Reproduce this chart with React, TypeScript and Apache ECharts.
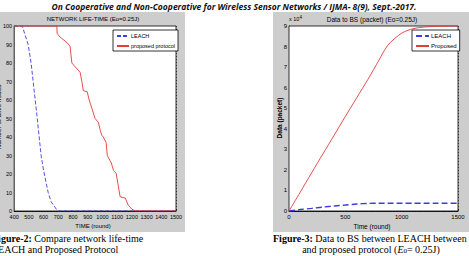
import React, { useEffect, useRef } from "react";
import * as echarts from "echarts";

// Left chart: network life-time (alive nodes vs round)
const leachRounds = [400, 455, 495, 515, 529, 543, 557, 570, 583, 600, 605, 631, 651, 678, 695, 800, 1000, 1200, 1500];
const leachAlive = [100, 100, 90, 80, 70, 60, 50, 40, 30, 22, 20, 10, 5, 2, 0, 0, 0, 0, 0];
const propRounds = [400, 690, 692, 712, 760, 780, 792, 814, 848, 860, 870, 896, 910, 930, 950, 972, 984, 995, 1006, 1025, 1033, 1060, 1075, 1093, 1107, 1120, 1155, 1175, 1200, 1222, 1300, 1500];
const propAlive = [100, 100, 96, 94, 91, 89, 80, 78, 75, 70, 65, 64.5, 60, 55, 50, 48, 44, 41, 40, 37, 30, 26, 22, 20.5, 14, 7.7, 7, 3.2, 1, 0, 0, 0];

// Right chart: data to BS (x10^4 packets)
const timeRounds = [0, 100, 200, 300, 400, 500, 600, 700, 800, 850, 900, 1000, 1100, 1200, 1300, 1400, 1500];
const proposedData = [0, 0.92, 1.85, 2.77, 3.68, 4.6, 5.5, 6.4, 7.35, 7.85, 8.2, 8.65, 8.87, 8.95, 8.98, 8.99, 9.0];
const leachData = [0, 0.07, 0.13, 0.19, 0.24, 0.29, 0.34, 0.37, 0.38, 0.38, 0.38, 0.38, 0.38, 0.38, 0.38, 0.38, 0.38];

const headerText = "On Cooperative and Non-Cooperative for Wireless Sensor Networks / IJMA- 8(9), Sept.-2017.";
const leftTitle = "NETWORK LIFE-TIME (Eo=0.25J)";
const rightTitle = "Data to BS (packet) (Eo=0.25J)";

const BLUE = "#3d3ddc";
const RED = "#e8393b";
const GRAY = "#cdcdcd";
const NARROW = "'Liberation Sans', Arial, sans-serif";
const SERIF = "'Liberation Serif', 'DejaVu Serif', serif";

const zip = (xs: number[], ys: number[]) => xs.map((x, i) => [x, ys[i]]);

export default function App() {
  const ref = useRef<HTMLDivElement>(null);
  useEffect(() => {
    if (!ref.current) return;
    const chart = echarts.init(ref.current, undefined, { renderer: "svg" });
    const splitLine = { show: true, lineStyle: { color: "#222", type: [1, 2] as any, width: 0.7 } };
    const fmt = (v: number) => String(v);
    const axisLabel = { color: "#000", fontSize: 5.5, fontFamily: NARROW, formatter: fmt };
    const axisLine = { show: true, onZero: false, lineStyle: { color: "#000", width: 0.8 } };
    const axisTick = { show: true, inside: true, length: 2, lineStyle: { color: "#000", width: 0.6 } };
    const legendBase = {
      orient: "vertical", backgroundColor: "#fff", borderColor: "#000", borderWidth: 0.8,
      padding: [3, 3, 2, 3], itemGap: 4, itemHeight: 6,
      itemStyle: { opacity: 0, borderWidth: 0 },
    };
    chart.setOption({
      animation: false,
      backgroundColor: "#fff",
      grid: [
        { left: 14, top: 26, width: 162, height: 185, show: true, backgroundColor: "#fff", borderColor: "#000", borderWidth: 0.8, z: 1 },
        { left: 289, top: 26, width: 169, height: 185, show: true, backgroundColor: "#fff", borderColor: "#000", borderWidth: 0.8, z: 1 },
      ],
      xAxis: [
        { type: "value", gridIndex: 0, min: 400, max: 1500, interval: 100, splitLine, axisLabel: { ...axisLabel, margin: 3 }, axisLine, axisTick },
        { type: "value", gridIndex: 1, min: 0, max: 1500, interval: 500, splitLine, axisLabel: { ...axisLabel, fontSize: 6, margin: 3 }, axisLine, axisTick },
      ],
      yAxis: [
        { type: "value", gridIndex: 0, min: 0, max: 100, interval: 10, splitLine, axisLabel: { ...axisLabel, margin: 2 }, axisLine, axisTick },
        { type: "value", gridIndex: 1, min: 0, max: 9, interval: 1, splitLine, axisLabel: { ...axisLabel, fontSize: 6, margin: 2 }, axisLine, axisTick },
      ],
      legend: [
        {
          ...legendBase,
          data: ["LEACH", "proposed protocol"], left: 113, top: 30,
          itemWidth: 12,
          textStyle: { fontSize: 5.5, fontFamily: NARROW, color: "#000", padding: [0, 0, 0, -3] },
        },
        {
          ...legendBase,
          data: ["LEACH ", "Proposed"], left: 412, top: 30,
          itemWidth: 13,
          textStyle: { fontSize: 6, fontFamily: NARROW, color: "#000", padding: [0, 0, 0, -3] },
        },
      ],
      series: [
        { name: "LEACH", type: "line", xAxisIndex: 0, yAxisIndex: 0, data: zip(leachRounds, leachAlive), symbol: "none", lineStyle: { color: BLUE, width: 0.9, type: [4, 2] }, itemStyle: { color: BLUE } },
        { name: "proposed protocol", type: "line", xAxisIndex: 0, yAxisIndex: 0, data: zip(propRounds, propAlive), symbol: "none", lineStyle: { color: RED, width: 0.9 }, itemStyle: { color: RED } },
        { name: "LEACH ", type: "line", xAxisIndex: 1, yAxisIndex: 1, data: zip(timeRounds, leachData), symbol: "none", smooth: 0.3, lineStyle: { color: BLUE, width: 1.4, type: [6, 3] }, itemStyle: { color: BLUE } },
        { name: "Proposed", type: "line", xAxisIndex: 1, yAxisIndex: 1, data: zip(timeRounds, proposedData), symbol: "none", smooth: 0.3, lineStyle: { color: RED, width: 0.9 }, itemStyle: { color: RED } },
      ],
      graphic: [
        { type: "rect", z: -10, silent: true, shape: { x: 0, y: 12, width: 185, height: 220 }, style: { fill: GRAY } },
        { type: "rect", z: -10, silent: true, shape: { x: 273, y: 12, width: 196, height: 220 }, style: { fill: GRAY } },
        { type: "text", x: 234, y: 6, style: { text: headerText, fontSize: 8.5, fontWeight: "bold", fontStyle: "italic", fontFamily: "'Open Sans', sans-serif", fill: "#111", align: "center", verticalAlign: "middle" } },
        { type: "text", x: 93, y: 19, style: { text: leftTitle, fontSize: 6, fontFamily: NARROW, fill: "#000", align: "center", verticalAlign: "middle" } },
        { type: "text", x: 372, y: 19, style: { text: rightTitle, fontSize: 6.5, fontFamily: NARROW, fill: "#000", align: "center", verticalAlign: "middle" } },
        { type: "text", x: 93, y: 226, style: { text: "TIME (round)", fontSize: 6, fontFamily: NARROW, fill: "#000", align: "center", verticalAlign: "middle" } },
        { type: "text", x: 372, y: 226, style: { text: "Time (round)", fontSize: 6.5, fontFamily: NARROW, fill: "#000", align: "center", verticalAlign: "middle" } },
        { type: "text", x: -2, y: 117, rotation: Math.PI / 2, style: { text: "Number of alive nodes", fontSize: 6.5, fontFamily: NARROW, fill: "#000", align: "center", verticalAlign: "middle" } },
        { type: "text", x: 279, y: 118, rotation: Math.PI / 2, style: { text: "Data (packet)", fontSize: 6.5, fontWeight: "bold", fontFamily: NARROW, fill: "#000", align: "center", verticalAlign: "middle" } },
        { type: "text", x: 289, y: 19, style: { text: "x 10{s|4}", fontSize: 5.5, fontFamily: NARROW, fill: "#000", verticalAlign: "middle", rich: { s: { fontSize: 4.5, fontFamily: NARROW, padding: [0, 0, 4, 0] } } } },
        { type: "text", x: -8, y: 238, style: { text: "{b|Figure-2:} Compare network life-time", fontSize: 10, fontFamily: SERIF, fill: "#000", verticalAlign: "middle", rich: { b: { fontWeight: "bold", fontSize: 10, fontFamily: SERIF } } } },
        { type: "text", x: -8, y: 249, style: { text: "LEACH and Proposed Protocol", fontSize: 10, fontFamily: SERIF, fill: "#000", verticalAlign: "middle" } },
        { type: "text", x: 273, y: 238, style: { text: "{b|Figure-3:} Data to BS between LEACH between", fontSize: 10, fontFamily: SERIF, fill: "#000", verticalAlign: "middle", rich: { b: { fontWeight: "bold", fontSize: 10, fontFamily: SERIF } } } },
        { type: "text", x: 371, y: 249, style: { text: "and proposed protocol ({i|E}{s|0}= 0.25J)", fontSize: 10, fontFamily: SERIF, fill: "#000", align: "center", verticalAlign: "middle", rich: { i: { fontStyle: "italic", fontSize: 10, fontFamily: SERIF }, s: { fontSize: 7, fontFamily: SERIF, padding: [4, 0, 0, 0] } } } },
      ],
    });
    return () => chart.dispose();
  }, []);
  return <div ref={ref} style={{ position: "fixed", left: 0, top: 0, width: 469, height: 256 }} />;
}
